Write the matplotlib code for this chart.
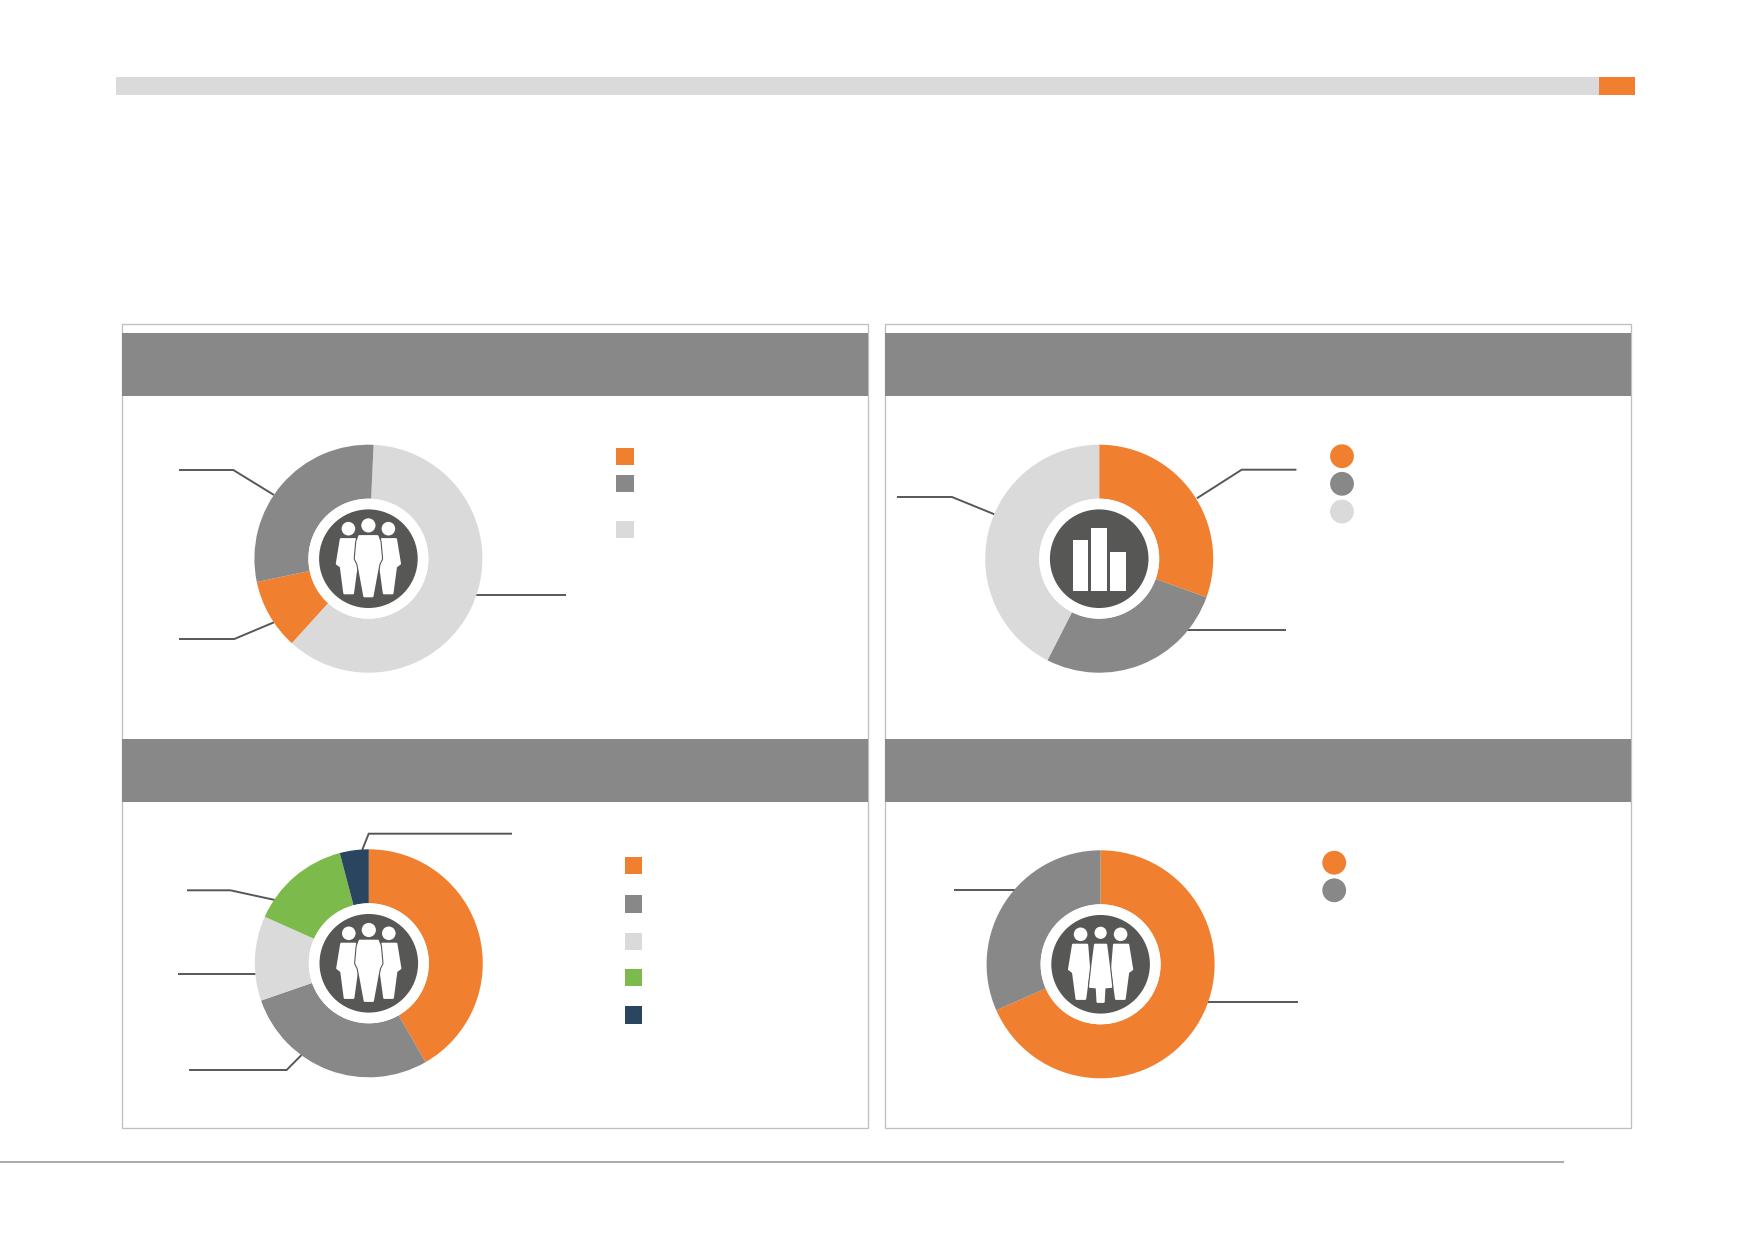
import matplotlib
matplotlib.use("Agg")
import matplotlib.pyplot as plt
from matplotlib.patches import Rectangle, Circle, Polygon

W, H = 1752, 1239

# ---- data (shares, clockwise from the start angle)
tl_values = [61.0, 10.0, 29.0]
tr_values = [30.5, 27.0, 42.5]
bl_values = [41.7, 28.0, 12.0, 14.2, 4.1]
br_values = [68.4, 31.6]

ORANGE, GREY, LIGHT, GREEN, NAVY = "#F08030", "#888888", "#DADADA", "#7CBA4C", "#294560"
DARK = "#575756"
tl_colors = [LIGHT, ORANGE, GREY]
tr_colors = [ORANGE, GREY, LIGHT]
bl_colors = [ORANGE, GREY, LIGHT, GREEN, NAVY]
br_colors = [ORANGE, GREY]

fig = plt.figure(figsize=(W / 100, H / 100), dpi=100, facecolor="white")


def pixel_axes(z):
    ax = fig.add_axes([0, 0, 1, 1], zorder=z)
    ax.set_xlim(0, W)
    ax.set_ylim(H, 0)
    ax.axis("off")
    ax.patch.set_alpha(0)
    return ax


bg = pixel_axes(0)
top = pixel_axes(5)

# page furniture
bg.add_patch(Rectangle((116, 76.5), 1483, 18, fc=LIGHT, ec="none"))
bg.add_patch(Rectangle((1599, 76.5), 36, 18, fc=ORANGE, ec="none"))
bg.plot([0, 1564], [1161.7, 1161.7], color="#9C9C9C", lw=1.2, solid_capstyle="butt")

# panels
for x0 in (122.0, 885.0):
    bg.add_patch(Rectangle((x0, 324), 746.0, 804, fc="white", ec="#C0C0C0", lw=0.95))
    bg.add_patch(Rectangle((x0, 332.5), 746.0, 63.3, fc=GREY, ec="none"))
    bg.add_patch(Rectangle((x0, 739), 746.0, 63, fc=GREY, ec="none"))

# leader lines
leaders = [
    ([179, 233.3, 274], [470, 470, 495]),
    ([179, 234.3, 274], [639, 639, 622.3]),
    ([476, 566], [595, 595]),
    ([1296.4, 1241.7, 1196.9], [469.7, 469.7, 498.3]),
    ([896.9, 952, 994.4], [497, 497, 514.3]),
    ([1186.5, 1286], [630, 630]),
    ([512, 368.7, 362.2], [833.7, 833.7, 850]),
    ([187, 230.3, 275], [890.3, 890.3, 900]),
    ([178, 256], [974, 974]),
    ([189, 286.6, 301.5], [1070, 1070, 1055]),
    ([954, 1015], [890.3, 890.3]),
    ([1208, 1298], [1001.7, 1001.7]),
]
for xs, ys in leaders:
    bg.plot(xs, ys, color=DARK, lw=1.4, solid_joinstyle="miter", solid_capstyle="butt")

# legend swatches
for x, y, c in [
    (616.4, 447.7, ORANGE), (616.4, 475.2, GREY), (616.4, 520.8, LIGHT),
    (624.9, 856.7, ORANGE), (624.9, 895.3, GREY), (624.9, 933, LIGHT),
    (624.9, 968.8, GREEN), (624.9, 1006.3, NAVY),
]:
    bg.add_patch(Rectangle((x, y), 17.2, 17.2, fc=c, ec="none"))
for x, y, c in [
    (1342, 456.2, ORANGE), (1342, 483.8, GREY), (1342, 511.5, LIGHT),
    (1334.2, 862.7, ORANGE), (1334.2, 890.3, GREY),
]:
    bg.add_patch(Circle((x, y), 11.9, fc=c, ec="none"))


def donut(cx, cy, values, colors, start):
    R = 114.0
    ax = fig.add_axes([(cx - R) / W, 1 - (cy + R) / H, 2 * R / W, 2 * R / H], zorder=2)
    ax.pie(values, colors=colors, startangle=start, counterclock=False, radius=1.0,
           wedgeprops=dict(width=1 - 60 / R, linewidth=0))
    ax.set_xlim(-1, 1)
    ax.set_ylim(-1, 1)
    top.add_patch(Circle((cx, cy), 60, fc="white", ec="none"))
    top.add_patch(Circle((cx, cy), 49.3, fc=DARK, ec="none"))


def shape(cx, cy, pts, gap=False):
    abs_pts = [(cx + px, cy + py) for px, py in pts]
    if gap:
        top.add_patch(Polygon(abs_pts, closed=True, fc=DARK, ec=DARK, lw=3.2, joinstyle="round"))
    top.add_patch(Polygon(abs_pts, closed=True, fc="white", ec="white", lw=1.6, joinstyle="round"))


SIDE_L = [(-27.5, -19.5), (-13.5, -19.5), (-11.5, 5), (-15.5, 34.5), (-24, 34.5),
          (-27.5, 8), (-31.5, 5)]
SIDE_R = [(-x, y) for x, y in SIDE_L]
MAN_C = [(-9, -22.5), (9, -22.5), (11, -17), (12.5, 0), (10, 5), (4, 37.5), (-4, 37.5),
         (-10, 5), (-12.5, 0), (-11, -17)]
WOMAN_C = [(-5.5, -19.5), (5.5, -19.5), (8, 0), (10.5, 22.5), (3.8, 23), (3, 37.5), (-3, 37.5),
           (-3.8, 23), (-10.5, 22.5), (-8, 0)]


def people(cx, cy, woman_centre=False):
    for sx in (-1, 1):
        top.add_patch(Circle((cx + sx * 20, cy - 30), 6.8, fc="white", ec="none"))
    shape(cx, cy, SIDE_L)
    shape(cx, cy, SIDE_R)
    if woman_centre:
        top.add_patch(Circle((cx, cy - 31.5), 6.1, fc="white", ec="none"))
        shape(cx, cy, WOMAN_C, gap=True)
    else:
        top.add_patch(Circle((cx, cy - 33.3), 7.1, fc="white", ec="none"))
        shape(cx, cy, MAN_C, gap=True)


donut(368.4, 558.7, tl_values, tl_colors, 87.4)
people(368.4, 558.7)

donut(1099.2, 558.7, tr_values, tr_colors, 90)
for x0, x1, y0 in [(1072.5, 1088, 540), (1091.4, 1106.9, 528.3), (1110.3, 1126.3, 552.3)]:
    top.add_patch(Rectangle((x0, y0), x1 - x0, 590.7 - y0, fc="white", ec="none"))

donut(368.8, 963.3, bl_values, bl_colors, 90)
people(368.8, 963.3)

donut(1100.6, 964.3, br_values, br_colors, 90)
people(1100.6, 964.3, woman_centre=True)

fig.savefig("out.png", dpi=100, facecolor="white")
